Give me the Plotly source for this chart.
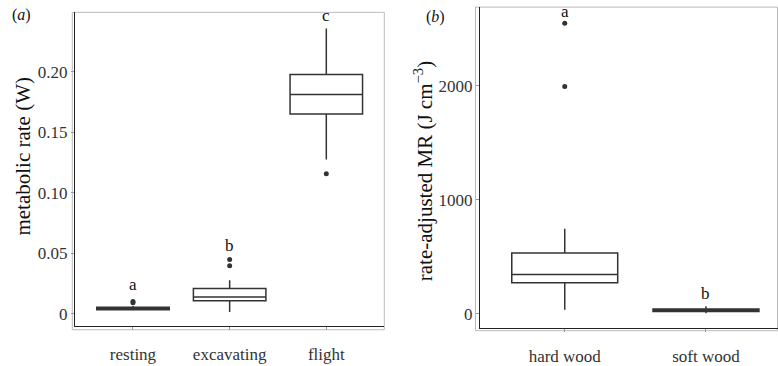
import plotly.graph_objects as go

# ---- data (panel a) ----
act_cats = ["resting", "excavating", "flight"]
act_q1 = [0.0035, 0.0108, 0.1651]
act_med = [0.0045, 0.0140, 0.1814]
act_q3 = [0.0055, 0.0209, 0.1978]
act_lo = [0.0030, 0.0016, 0.1276]
act_hi = [0.0065, 0.0277, 0.2359]
act_out_x = ["resting", "resting", "excavating", "excavating", "flight"]
act_out_y = [0.0092, 0.0102, 0.0397, 0.0450, 0.1158]
act_letters = ["a", "b", "c"]
act_letter_y = [0.0240, 0.0566, 0.2462]
act_yticks = [0, 0.05, 0.10, 0.15, 0.20]
act_yticklabels = ["0", "0.05", "0.10", "0.15", "0.20"]

# ---- data (panel b) ----
wood_cats = ["hard wood", "soft wood"]
wood_q1 = [273, 20]
wood_med = [345, 32]
wood_q3 = [535, 42]
wood_lo = [37, 5]
wood_hi = [746, 66]
wood_out_x = ["hard wood", "hard wood"]
wood_out_y = [1994, 2549]
wood_letters = ["a", "b"]
wood_letter_y = [2650, 179]
wood_yticks = [0, 1000, 2000]
wood_yticklabels = ["0", "1000", "2000"]

FONT = "Liberation Serif"
LINE = "#333333"

fig = go.Figure()

def add_boxes(cats, q1, med, q3, lo, hi, xa, ya):
    fig.add_trace(go.Box(
        x=cats, q1=q1, median=med, q3=q3, lowerfence=lo, upperfence=hi,
        width=0.75, whiskerwidth=0, boxpoints=False,
        fillcolor="white", line=dict(color=LINE, width=1.5),
        xaxis=xa, yaxis=ya, showlegend=False, hoverinfo="skip"))

add_boxes(act_cats, act_q1, act_med, act_q3, act_lo, act_hi, "x", "y")
add_boxes(wood_cats, wood_q1, wood_med, wood_q3, wood_lo, wood_hi, "x2", "y2")

fig.add_trace(go.Scatter(x=act_out_x, y=act_out_y, mode="markers",
                         marker=dict(color=LINE, size=5), xaxis="x", yaxis="y",
                         showlegend=False))
fig.add_trace(go.Scatter(x=wood_out_x, y=wood_out_y, mode="markers",
                         marker=dict(color=LINE, size=5), xaxis="x2", yaxis="y2",
                         showlegend=False))

ann = []
for c, t, yv in zip(act_cats, act_letters, act_letter_y):
    ann.append(dict(x=c, y=yv, xref="x", yref="y", text=t, showarrow=False,
                    font=dict(family=FONT, size=17, color="#111"),
                    xanchor="center", yanchor="middle"))
for c, t, yv in zip(wood_cats, wood_letters, wood_letter_y):
    ann.append(dict(x=c, y=yv, xref="x2", yref="y2", text=t, showarrow=False,
                    font=dict(family=FONT, size=17, color="#111"),
                    xanchor="center", yanchor="middle"))

W, H = 778, 366
def px(x): return x / W
def py(y): return 1 - y / H

ann.append(dict(x=px(23), y=py(161), xref="paper", yref="paper",
                text="metabolic rate (W)", textangle=-90, showarrow=False,
                xanchor="center", yanchor="middle",
                font=dict(family=FONT, size=21, color="#111")))
ann.append(dict(x=px(423), y=py(176), xref="paper", yref="paper",
                text="rate-adjusted MR (J cm<sup>−3</sup>)", textangle=-90, showarrow=False,
                xanchor="center", yanchor="middle",
                font=dict(family=FONT, size=21, color="#111")))
ann.append(dict(x=px(21), y=py(15), xref="paper", yref="paper",
                text="(<i>a</i>)", showarrow=False, xanchor="center", yanchor="middle",
                font=dict(family=FONT, size=16, color="#111")))
ann.append(dict(x=px(435), y=py(17), xref="paper", yref="paper",
                text="(<i>b</i>)", showarrow=False, xanchor="center", yanchor="middle",
                font=dict(family=FONT, size=16, color="#111")))

tickfont = dict(family=FONT, size=17, color="#333")
common_x = dict(type="category", showline=True, linecolor="#222", linewidth=1.4,
                ticks="outside", ticklen=3, tickcolor="#999", showgrid=False,
                zeroline=False, tickfont=tickfont, ticklabelstandoff=10)
common_y = dict(showline=True, linecolor="#222", linewidth=1.4,
                ticks="outside", ticklen=3, tickcolor="#999", showgrid=False,
                zeroline=False, tickfont=tickfont)

fig.update_layout(
    width=W, height=H, margin=dict(l=0, r=0, t=0, b=0),
    font=dict(family=FONT, color="#222"),
    plot_bgcolor="white", paper_bgcolor="white",
    xaxis=dict(domain=[px(75), px(384.3)], range=[-0.6, 2.6], anchor="y",
               categoryorder="array", categoryarray=act_cats, **common_x),
    yaxis=dict(domain=[py(335), py(12.7)], range=[-0.0099, 0.2492], anchor="x",
               tickvals=act_yticks, ticktext=act_yticklabels, **common_y),
    xaxis2=dict(domain=[px(480), 1.0], range=[-0.6, 1.51], anchor="y2",
                categoryorder="array", categoryarray=wood_cats, **common_x),
    yaxis2=dict(domain=[py(336.7), py(7.3)], range=[-119.5, 2691], anchor="x2",
                tickvals=wood_yticks, ticktext=wood_yticklabels, **common_y),
    annotations=ann,
    shapes=[
        dict(type="rect", xref="paper", yref="paper",
             x0=px(72.3), x1=px(384.3), y0=py(339), y1=py(12.7),
             line=dict(color="#bbbbbb", width=1), layer="below"),
        dict(type="rect", xref="paper", yref="paper",
             x0=px(475.5), x1=px(777.5), y0=py(340), y1=py(7.3),
             line=dict(color="#bbbbbb", width=1), layer="below"),
    ],
)

fig.write_html("out.html")
